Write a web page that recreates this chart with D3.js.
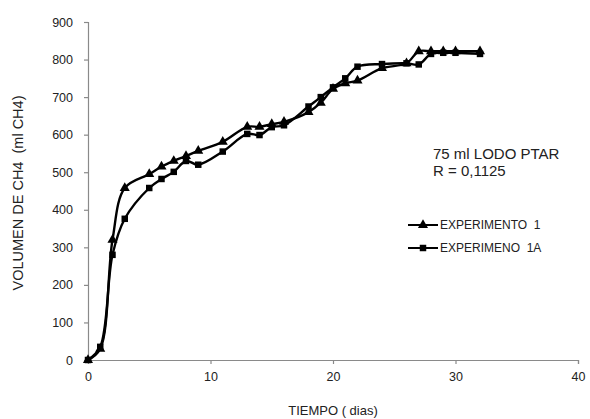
<!DOCTYPE html>
<html>
<head>
<meta charset="utf-8">
<script src="https://cdn.jsdelivr.net/npm/d3@7"></script>
<style>
body { margin: 0; background: #ffffff; }
text { font-family: "Liberation Sans", Arial, sans-serif; fill: #222; }
</style>
</head>
<body>
<div id="my_dataviz"></div>
<script>
// data
var days = [0, 1, 2, 3, 5, 6, 7, 8, 9, 11, 13, 14, 15, 16, 18, 19, 20, 21, 22, 24, 26, 27, 28, 29, 30, 32];
var experimento1 = [0, 30, 320, 458, 495, 515, 530, 543, 557, 581, 621, 621, 628, 634, 660, 685, 722, 737, 744, 777, 790, 822, 822, 822, 822, 822];
var experimento1A = [0, 35, 280, 376, 458, 482, 501, 530, 520, 555, 602, 599, 620, 625, 675, 700, 726, 750, 781, 788, 790, 787, 815, 818, 818, 815];
var xTicks = [0, 10, 20, 30, 40];
var yTicks = [0, 100, 200, 300, 400, 500, 600, 700, 800, 900];
var seriesNames = ["EXPERIMENTO  1", "EXPERIMENO  1A"];
var notes = ["75 ml LODO PTAR", "R = 0,1125"];

// set the dimensions and margins of the graph
var margin = {top: 22, right: 12, bottom: 59, left: 88},
width = 590 - margin.left - margin.right,
height = 419 - margin.top - margin.bottom;

var svg = d3.select("#my_dataviz")
.append("svg")
.attr("width", width + margin.left + margin.right)
.attr("height", height + margin.top + margin.bottom)
.append("g")
.attr("transform", "translate(" + margin.left + "," + margin.top + ")");

var x = d3.scaleLinear().domain([0, 40]).range([0, width]);
var y = d3.scaleLinear().domain([0, 900]).range([height, 0]);

// X axis
var gx = svg.append("g")
.attr("transform", "translate(0," + height + ")")
.call(d3.axisBottom(x).tickValues(xTicks).tickSize(4).tickPadding(8));
// Y axis
var gy = svg.append("g")
.call(d3.axisLeft(y).tickValues(yTicks).tickSize(4).tickPadding(11));

[gx, gy].forEach(function (g) {
g.selectAll("path, line").attr("stroke", "#8a8a8a").attr("stroke-width", 1.2);
g.selectAll("text").style("font-size", "12.5px").style("font-family", "Liberation Sans, Arial, sans-serif").attr("fill", "#222");
});

// axis titles
svg.append("text")
.attr("x", width / 2)
.attr("y", height + 55)
.attr("text-anchor", "middle")
.style("font-size", "13px")
.text("TIEMPO ( dias)");

svg.append("text")
.attr("transform", "translate(" + (-65) + "," + (height / 2 + 2) + ") rotate(-90)")
.attr("text-anchor", "middle")
.attr("xml:space", "preserve")
.style("font-size", "14.5px")
.text("VOLUMEN DE CH4  (ml CH4)");

// the two series
var series = [
{name: seriesNames[0], values: experimento1, symbol: d3.symbolTriangle, size: 44},
{name: seriesNames[1], values: experimento1A, symbol: d3.symbolSquare, size: 42}
];

var line = d3.line()
.x(function (d) { return x(d.day); })
.y(function (d) { return y(d.v); })
.curve(d3.curveCatmullRom.alpha(0.5));

series.forEach(function (s) {
var pts = days.map(function (d, i) { return {day: d, v: s.values[i]}; });
svg.append("path")
.datum(pts)
.attr("fill", "none")
.attr("stroke", "#000")
.attr("stroke-width", 2.4)
.attr("d", line);
svg.append("g")
.selectAll("path")
.data(pts)
.enter()
.append("path")
.attr("d", d3.symbol().type(s.symbol).size(s.size))
.attr("transform", function (d) { return "translate(" + x(d.day) + "," + y(d.v) + ")"; })
.attr("fill", "#000");
});

// annotation
svg.append("g")
.selectAll("text")
.data(notes)
.enter()
.append("text")
.attr("x", 345)
.attr("y", function (d, i) { return 137 + i * 17; })
.style("font-size", "15px")
.text(function (d) { return d; });

// legend
var legend = svg.append("g")
.selectAll("g")
.data(series)
.enter()
.append("g")
.attr("transform", function (d, i) { return "translate(320," + (203 + i * 23) + ")"; });
legend.append("line")
.attr("x1", 0).attr("x2", 30)
.attr("stroke", "#000").attr("stroke-width", 2);
legend.append("path")
.attr("d", function (d) { return d3.symbol().type(d.symbol).size(d.size)(); })
.attr("transform", "translate(15,0)")
.attr("fill", "#000");
legend.append("text")
.attr("x", 32)
.attr("dy", "0.35em")
.attr("xml:space", "preserve")
.style("font-size", "12px")
.text(function (d) { return d.name; });
</script>
</body>
</html>
